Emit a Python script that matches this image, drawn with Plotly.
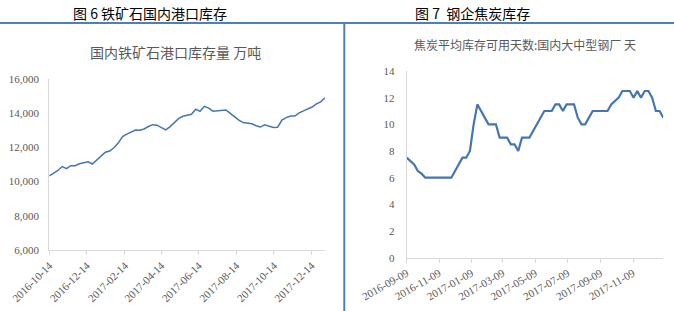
import pandas as pd
import plotly.graph_objects as go

# ---------------- data ----------------
# Fig 6: domestic iron ore port inventory (10k tonnes), weekly
ore_start = "2016-10-14"
ore_values = [
    10330, 10500, 10650, 10880, 10760, 10930, 10930, 11040, 11100, 11160,
    11030, 11270, 11540, 11720, 11790, 11980, 12250, 12630, 12780, 12920,
    13020, 13010, 13080, 13220, 13330, 13300, 13150, 13020, 13200, 13460,
    13680, 13820, 13900, 13940, 14230, 14110, 14400, 14300, 14120, 14150,
    14190, 14190, 13990, 13790, 13590, 13450, 13420, 13380, 13270, 13190,
    13320, 13230, 13160, 13180, 13600, 13740, 13840, 13830, 14020, 14140,
    14250, 14360, 14550, 14660, 14900,
]
ore_dates = pd.date_range(ore_start, periods=len(ore_values), freq="7D")
ore_ticks = ["2016-10-14", "2016-12-14", "2017-02-14", "2017-04-14",
             "2017-06-14", "2017-08-14", "2017-10-14", "2017-12-14"]

# Fig 7: coke inventory available days, large & medium steel mills, weekly
coke_start = "2016-09-09"
coke_values = [
    7.5, 7.25, 7.0, 6.5, 6.3, 6.0, 6.0, 6.0, 6.0, 6.0,
    6.0, 6.0, 6.0, 6.5, 7.0, 7.5, 7.5, 8.0, 10.0, 11.5,
    11.0, 10.5, 10.0, 10.0, 10.0, 9.0, 9.0, 9.0, 8.5, 8.5,
    8.0, 9.0, 9.0, 9.0, 9.5, 10.0, 10.5, 11.0, 11.0, 11.0,
    11.5, 11.5, 11.0, 11.5, 11.5, 11.5, 10.5, 10.0, 10.0, 10.5,
    11.0, 11.0, 11.0, 11.0, 11.0, 11.5, 11.75, 12.0, 12.5, 12.5,
    12.5, 12.0, 12.5, 12.0, 12.5, 12.5, 12.0, 11.0, 11.0, 10.5,
]
coke_dates = pd.date_range(coke_start, periods=len(coke_values), freq="7D")
coke_ticks = ["2016-09-09", "2016-11-09", "2017-01-09", "2017-03-09",
              "2017-05-09", "2017-07-09", "2017-09-09", "2017-11-09"]

header_left = "图 6 铁矿石国内港口库存"
header_right = "图 7  钢企焦炭库存"
title_left = "国内铁矿石港口库存量 万吨"
title_right = "焦炭平均库存可用天数:国内大中型钢厂 天"

# ---------------- figure ----------------
W, H = 674, 311
LINE = "#4675b4"
AXIS = "#d9d9d9"
TXT = "#595959"
SERIF = "Liberation Serif, Times New Roman, serif"
CJK = "Noto Sans CJK SC, sans-serif"

fig = go.Figure()
fig.add_trace(go.Scatter(x=ore_dates, y=ore_values, mode="lines",
                         line=dict(color=LINE, width=1.5),
                         xaxis="x", yaxis="y", showlegend=False))
fig.add_trace(go.Scatter(x=coke_dates, y=coke_values, mode="lines",
                         line=dict(color=LINE, width=2.2),
                         xaxis="x2", yaxis="y2", showlegend=False))

def px_x(p):
    return p / W

def px_y(p):
    return 1 - p / H

common_x = dict(type="date", showgrid=False, showline=True, linecolor=AXIS,
                linewidth=1, ticks="outside", ticklen=4, tickcolor=AXIS,
                tickformat="%Y-%m-%d", tickfont=dict(family=SERIF, size=11, color=TXT),
                zeroline=False, automargin=False)
common_y = dict(showgrid=False, showline=True, linecolor=AXIS, linewidth=1,
                ticks="", tickfont=dict(family=SERIF, size=11, color=TXT),
                zeroline=False, automargin=False)

fig.update_layout(
    template="none",
    width=W, height=H,
    margin=dict(l=0, r=0, t=0, b=0, autoexpand=False),
    paper_bgcolor="white", plot_bgcolor="white",
    xaxis=dict(common_x, domain=[px_x(49.3), px_x(325)],
               range=[ore_dates[0], ore_dates[-1]],
               tickvals=ore_ticks, tickangle=-45, anchor="y"),
    yaxis=dict(common_y, domain=[px_y(250), px_y(79)], range=[6000, 16000],
               dtick=2000, tickformat=",", anchor="x", ticklabelstandoff=7),
    xaxis2=dict(common_x, domain=[px_x(406.7), px_x(663.3)],
                range=[coke_dates[0], coke_dates[-1]],
                tickvals=coke_ticks, tickangle=-30, anchor="y2"),
    yaxis2=dict(common_y, domain=[px_y(257.7), px_y(71)], range=[0, 14],
                dtick=2, anchor="x2", ticklabelstandoff=9),
    shapes=[
        dict(type="line", xref="paper", yref="paper", x0=0, x1=1,
             y0=px_y(23), y1=px_y(23), line=dict(color="#4f7fb8", width=2)),
        dict(type="line", xref="paper", yref="paper", x0=px_x(344.3), x1=px_x(344.3),
             y0=px_y(23), y1=0, line=dict(color="#4f7fb8", width=2)),
    ],
    annotations=[
        dict(text=header_left, xref="paper", yref="paper", x=px_x(150), y=px_y(12.5),
             showarrow=False, font=dict(family=CJK, size=14, color="black"),
             xanchor="center", yanchor="middle"),
        dict(text=header_right, xref="paper", yref="paper", x=px_x(472), y=px_y(12.5),
             showarrow=False, font=dict(family=CJK, size=14, color="black"),
             xanchor="center", yanchor="middle"),
        dict(text=title_left, xref="paper", yref="paper", x=px_x(175), y=px_y(52),
             showarrow=False, font=dict(family=CJK, size=14, color=TXT),
             xanchor="center", yanchor="middle"),
        dict(text=title_right, xref="paper", yref="paper", x=px_x(525), y=px_y(44),
             showarrow=False, font=dict(family=CJK, size=12, color=TXT),
             xanchor="center", yanchor="middle"),
    ],
)

fig.write_html("out.html")
